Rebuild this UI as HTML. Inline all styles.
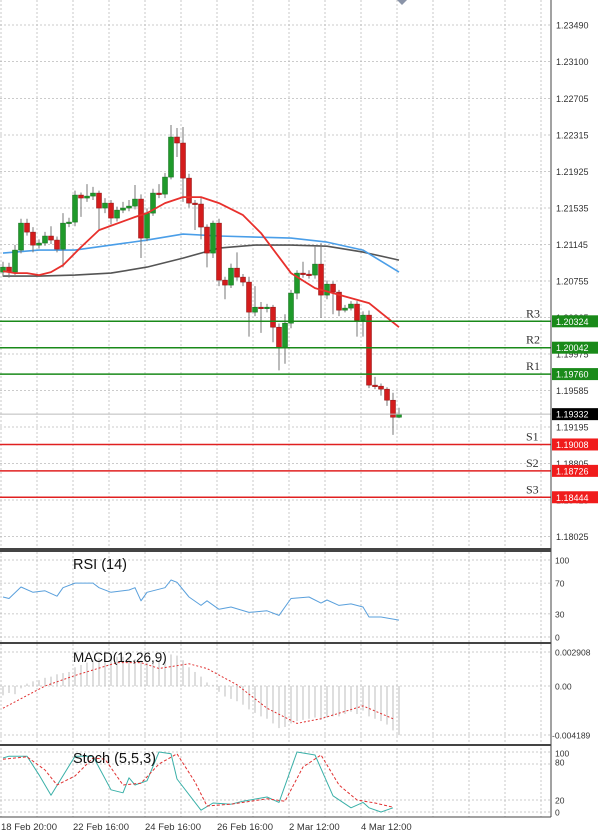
<!DOCTYPE html>
<html><head><meta charset="utf-8">
<style>
body{margin:0;background:#fff;}
svg{display:block;font-family:"Liberation Sans",sans-serif;}
</style></head>
<body>
<svg id="chart" width="600" height="836" viewBox="0 0 600 836"></svg>
<script>
const opens=[1.20850,1.20903,1.20850,1.21085,1.21373,1.21277,1.21138,1.21160,1.21235,1.21192,1.21095,1.21373,1.21384,1.21673,1.21641,1.21662,1.21694,1.21534,1.21587,1.21427,1.21512,1.21534,1.21555,1.21630,1.21213,1.21480,1.21694,1.21683,1.21865,1.22293,1.22229,1.21854,1.21587,1.21577,1.21331,1.21053,1.21373,1.20764,1.20711,1.20892,1.20796,1.20743,1.20422,1.20475,1.20465,1.20475,1.20261,1.20047,1.20304,1.20625,1.20839,1.20828,1.20818,1.20935,1.20604,1.20721,1.20636,1.20443,1.20465,1.20508,1.20336,1.20390,1.19642,1.19631,1.19599,1.19481,1.19299];
const closes=[1.20903,1.20850,1.21085,1.21373,1.21277,1.21138,1.21160,1.21235,1.21192,1.21095,1.21373,1.21384,1.21673,1.21641,1.21662,1.21694,1.21534,1.21587,1.21427,1.21512,1.21534,1.21555,1.21630,1.21213,1.21480,1.21694,1.21683,1.21865,1.22293,1.22229,1.21854,1.21587,1.21577,1.21331,1.21053,1.21373,1.20764,1.20711,1.20892,1.20796,1.20743,1.20422,1.20475,1.20465,1.20475,1.20261,1.20047,1.20304,1.20625,1.20839,1.20828,1.20818,1.20935,1.20604,1.20721,1.20636,1.20443,1.20465,1.20508,1.20336,1.20390,1.19642,1.19631,1.19599,1.19481,1.19299,1.19332];
const highs=[1.20960,1.20950,1.21140,1.21420,1.21420,1.21330,1.21200,1.21280,1.21340,1.21230,1.21480,1.21430,1.21720,1.21700,1.21790,1.21760,1.21720,1.21640,1.21620,1.21550,1.21600,1.21620,1.21780,1.21680,1.21530,1.21740,1.21790,1.21910,1.22421,1.22389,1.22400,1.21900,1.21620,1.21640,1.21360,1.21400,1.21420,1.20800,1.20940,1.21060,1.20830,1.20800,1.20700,1.20530,1.20510,1.20500,1.20300,1.20400,1.20660,1.20870,1.20960,1.20870,1.21120,1.21160,1.20760,1.20750,1.20660,1.20500,1.20540,1.20540,1.20430,1.20440,1.19730,1.19660,1.19620,1.19560,1.19400];
const lows=[1.20800,1.20790,1.20820,1.21050,1.21240,1.21060,1.21100,1.21130,1.21150,1.21060,1.20900,1.21330,1.21340,1.21440,1.21600,1.21620,1.21300,1.21480,1.21360,1.21390,1.21480,1.21500,1.21520,1.21000,1.21180,1.21450,1.21640,1.21640,1.21840,1.22080,1.21600,1.21540,1.21300,1.21200,1.20900,1.21000,1.20700,1.20560,1.20680,1.20760,1.20700,1.20160,1.20380,1.20200,1.20420,1.20100,1.19800,1.19870,1.20250,1.20560,1.20790,1.20780,1.20780,1.20360,1.20560,1.20400,1.20380,1.20420,1.20440,1.20160,1.20160,1.19610,1.19600,1.19530,1.19420,1.19110,1.19290];
const maIdx=[0,6,12,18,24,30,36,42,48,54,60,66];
const blueMA=[1.21053,1.21085,1.21085,1.21138,1.21192,1.21256,1.21235,1.21224,1.21213,1.21170,1.21085,1.20850];
const blackMA=[1.20807,1.20807,1.20818,1.20839,1.20903,1.20999,1.21106,1.21138,1.21138,1.21127,1.21063,1.20978];
const redIdx=[0,2,4,6,8,10,13,16,22,24,27,30,33,36,40,43,46,48,52,55,58,61,66];
const redMA=[1.20860,1.20839,1.20839,1.20818,1.20850,1.20924,1.21117,1.21299,1.21438,1.21480,1.21587,1.21651,1.21651,1.21587,1.21459,1.21266,1.21010,1.20839,1.20679,1.20625,1.20572,1.20518,1.20261];
const priceTicks=["1.23490","1.23100","1.22705","1.22315","1.21925","1.21535","1.21145","1.20755","1.20365","1.19975","1.19585","1.19195","1.18805","1.18415","1.18025"];
const levelNames=["R3","R2","R1","S1","S2","S3"];
const levelValues=[1.20324,1.20042,1.19760,1.19008,1.18726,1.18444];
const lastPrice=1.19332;
const rsiIdx=[0,1,3,5,7,9,10,12,15,16,18,21,22,23,24,27,28,29,31,33,34,36,38,41,44,46,48,51,53,54,56,58,60,61,63,66];
const rsiVal=[52,50,65,58,60,53,64,70,70,64,58,61,64,47,58,64,74,71,52,41,47,36,39,32,34,28,50,52,44,48,41,43,39,26,26,22];
const macdHist=[-0.0008,-0.0006,-0.0007,-0.0002,0.0002,0.0004,0.0005,0.0007,0.0008,0.0010,0.0011,0.0012,0.0016,0.0018,0.0020,0.0022,0.0024,0.0026,0.0026,0.0025,0.0025,0.0024,0.0023,0.0022,0.0020,0.0021,0.0022,0.0023,0.0027,0.0026,0.0022,0.0016,0.0012,0.0008,0.0003,0.0001,-0.0005,-0.0009,-0.0011,-0.0013,-0.0016,-0.0020,-0.0023,-0.0026,-0.0028,-0.0032,-0.0036,-0.0035,-0.0032,-0.0030,-0.0029,-0.0028,-0.0027,-0.0029,-0.0027,-0.0026,-0.0026,-0.0024,-0.0022,-0.0024,-0.0021,-0.0026,-0.0028,-0.0030,-0.0033,-0.0038,-0.0042];
const sigIdx=[0,7,12,19,23,26,31,34,39,44,49,53,60,65];
const sigVal=[-0.0019,0,0.0009,0.0020,0.0020,0.0015,0.0019,0.0015,0.0001,-0.0019,-0.0032,-0.0028,-0.0017,-0.0028];
const stIdx=[0,1,4,6,8,12,15,18,20,21,22,24,26,28,29,33,35,38,40,44,46,49,52,55,58,60,61,63,65];
const stMain=[90,93,93,62,28,93,93,37,32,57,45,52,100,97,55,3,15,13,18,25,16,100,95,27,7,16,7,0,7];
const stSigIdx=[0,4,7,9,12,15,17,20,23,26,29,32,34,38,44,47,50,53,56,59,62,65];
const stSig=[88,92,70,45,60,90,88,45,48,80,97,50,10,13,22,18,75,95,45,20,15,8];
const dateLabels=["18 Feb 20:00","22 Feb 16:00","24 Feb 16:00","26 Feb 16:00","2 Mar 12:00","4 Mar 12:00"];
const dateIdx=[0,12,24,36,48,60];

const svg=document.getElementById('chart');
const NS='http://www.w3.org/2000/svg';
function mk(tag,attrs,parent){const e=document.createElementNS(NS,tag);for(const k in attrs)e.setAttribute(k,attrs[k]);(parent||svg).appendChild(e);return e;}
const xOf=i=>3+6*i;
const yP=p=>25+(1.2349-p)*9359;
const yRsi=v=>637-v*0.77;
const yMacd=v=>686-v*11692;
const yStoch=v=>812-v*0.6;
const PR=551;

const grid=mk('g',{});


for(let k=0;k<16;k++){const x=1+36*k;if(x>PR)break;mk('line',{x1:x,y1:0,x2:x,y2:817,stroke:'#bbb','stroke-dasharray':'2,2','stroke-width':0.8},grid);}
priceTicks.forEach(t=>{const y=yP(parseFloat(t));mk('line',{x1:0,y1:y,x2:PR,y2:y,stroke:'#bbb','stroke-dasharray':'2,2','stroke-width':0.8},grid);});
[100,70,30,0].forEach(v=>mk('line',{x1:0,y1:yRsi(v),x2:PR,y2:yRsi(v),stroke:'#bbb','stroke-dasharray':'2,2','stroke-width':0.8},grid));
[0.002908,0,-0.004189].forEach(v=>mk('line',{x1:0,y1:yMacd(v),x2:PR,y2:yMacd(v),stroke:'#bbb','stroke-dasharray':'2,2','stroke-width':0.8},grid));
[100,80,20,0].forEach(v=>mk('line',{x1:0,y1:yStoch(v),x2:PR,y2:yStoch(v),stroke:'#bbb','stroke-dasharray':'2,2','stroke-width':0.8},grid));

priceTicks.forEach(t=>{const tx=mk('text',{x:556,y:yP(parseFloat(t))+3.5,'font-size':9,fill:'#333'});tx.textContent=t;

});

function line(idx,vals,yf,color,w,dash,name){const d=idx.map((i,k)=>(k?'L':'M')+xOf(i)+' '+yf(vals[k]).toFixed(1)).join(' ');const p=mk('path',{d:d,fill:'none',stroke:color,'stroke-width':w,'stroke-dasharray':dash||'none','stroke-linejoin':'round'});

return p;}
line(maIdx,blackMA,yP,'#555',1.6,null,'slow-moving-average');
line(maIdx,blueMA,yP,'#4a9ee8',1.6,null,'medium-moving-average');

const cg=mk('g',{});


closes.forEach((c,i)=>{const o=opens[i];const x=xOf(i);const up=c>=o;const col=up?'#1f9a2a':'#d41c1c';
mk('line',{x1:x,y1:yP(highs[i]),x2:x,y2:yP(lows[i]),stroke:'#777','stroke-width':1},cg);
const t=Math.min(yP(o),yP(c));const h=Math.max(1.5,Math.abs(yP(o)-yP(c)));
const r=mk('rect',{x:x-2.5,y:t,width:5,height:h,fill:col,stroke:up?'#126b1a':'#8a1010','stroke-width':0.5},cg);

});
line(redIdx,redMA,yP,'#e8302c',1.8,null,'fast-moving-average');

const lv=mk('g',{});


levelValues.forEach((v,k)=>{const y=yP(v);const col=k<3?'#1a8a1a':'#e02020';
mk('line',{x1:0,y1:y,x2:PR,y2:y,stroke:col,'stroke-width':1.5},lv);
const lt=mk('text',{x:526,y:y-4,'font-size':12,fill:'#333','font-family':'Liberation Serif, serif'},lv);lt.textContent=levelNames[k];


mk('rect',{x:552,y:y-6,width:46,height:12,fill:k<3?'#1a8a1a':'#f01c1c'},lv);
const bt=mk('text',{x:556,y:y+3.5,'font-size':9,fill:'#fff'},lv);bt.textContent=v.toFixed(5);

});
{const y=yP(lastPrice);mk('line',{x1:0,y1:y,x2:PR,y2:y,stroke:'#bbb','stroke-width':1});mk('rect',{x:552,y:y-6,width:46,height:12,fill:'#000'});
const t=mk('text',{x:556,y:y+3.5,'font-size':9,fill:'#fff'});t.textContent=lastPrice.toFixed(5);

}
mk('path',{d:'M397 0 L407 0 L402 5 Z',fill:'#8a94a8'});

line(rsiIdx,rsiVal,yRsi,'#5aa0dc',1,null,'rsi-line');
const mh=mk('g',{});


macdHist.forEach((v,i)=>mk('line',{x1:xOf(i),y1:yMacd(0),x2:xOf(i),y2:yMacd(v),stroke:'#c8c8c8','stroke-width':1.2},mh));
line(sigIdx,sigVal,yMacd,'#e03030',1,'2,2','macd-signal-line');
line(stIdx,stMain,yStoch,'#3ab0a8',1,null,'stoch-main-line');
line(stSigIdx,stSig,yStoch,'#e03030',1,'3,2','stoch-signal-line');

[[100,yRsi],[70,yRsi],[30,yRsi],[0,yRsi]].forEach(([v,f])=>{const t=mk('text',{x:555,y:f(v)+3.5,'font-size':8.5,fill:'#333'});t.textContent=v;});
[["0.002908",0.002908],["0.00",0],["-0.004189",-0.004189]].forEach(([s,v])=>{const t=mk('text',{x:s[0]=='-'?552:555,y:yMacd(v)+3.5,'font-size':8.5,fill:'#333'});t.textContent=s;});
[[100,0],[80,1],[20,0],[0,0]].forEach(([v,o])=>{const t=mk('text',{x:555,y:yStoch(v)+3.5+(v==80?-2:0)+(v==100?1:0),'font-size':8.5,fill:'#333'});t.textContent=v;});

[549,551,643,745,817].forEach(y=>mk('line',{x1:0,y1:y,x2:PR,y2:y,stroke:'#444','stroke-width':y==817?1:2}));
mk('line',{x1:PR,y1:0,x2:PR,y2:817,stroke:'#444','stroke-width':1});

[["RSI (14)",569,14.5],["MACD(12,26,9)",662,13.5],["Stoch (5,5,3)",763,14.5]].forEach(([s,y,fs])=>{const t=mk('text',{x:73,y:y,'font-size':fs,fill:'#111'});t.textContent=s;

});

dateLabels.forEach((s,k)=>{const t=mk('text',{x:k==0?1:xOf(dateIdx[k])-2,y:830,'font-size':9.5,fill:'#333'});t.textContent=s;

});
</script>
</body></html>
